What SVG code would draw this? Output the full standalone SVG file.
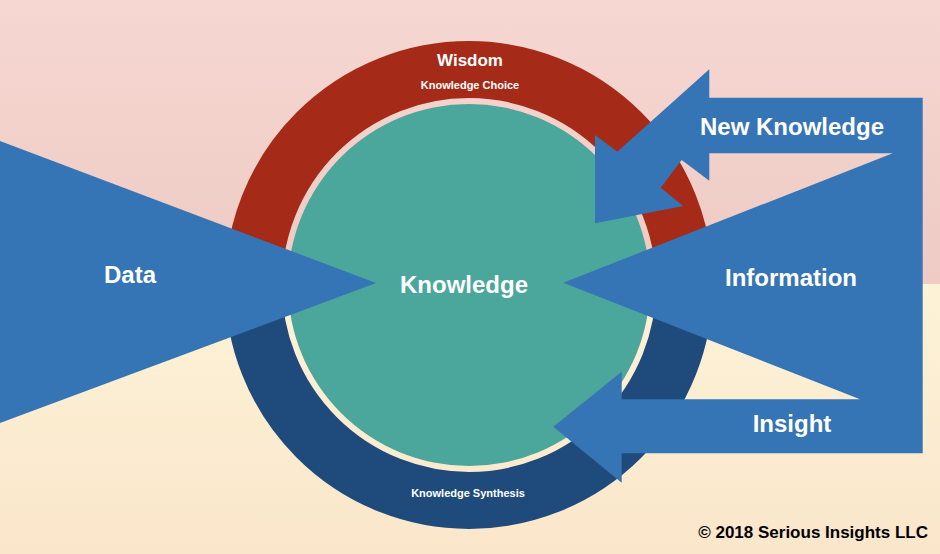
<svg xmlns="http://www.w3.org/2000/svg" width="940" height="554" viewBox="0 0 940 554">
<defs>
<linearGradient id="gTop" x1="0" y1="0" x2="0" y2="1"><stop offset="0" stop-color="#f6d7d1"/><stop offset="1" stop-color="#eecbc4"/></linearGradient>
<linearGradient id="gBot" x1="0" y1="0" x2="0" y2="1"><stop offset="0" stop-color="#fdf3d6"/><stop offset="1" stop-color="#fae6cb"/></linearGradient>
<style>
.t{font-family:"Liberation Sans",Arial,sans-serif;font-weight:bold;fill:#fff;text-anchor:middle}
.big{font-size:24px}
.sm{font-size:11px}
.arr{fill:#3574b5}
</style>
</defs>
<rect x="0" y="0" width="940" height="284" fill="url(#gTop)"/>
<rect x="0" y="284" width="940" height="270" fill="url(#gBot)"/>
<g id="wisdom">
<path d="M253.5 285 A215.5 215.5 0 0 1 684.5 285" fill="none" stroke="#a52a17" stroke-width="57"/>
<text class="t" x="470" y="66" font-size="17">Wisdom</text>
<text class="t sm" x="470" y="89">Knowledge Choice</text>
</g>
<g id="synthesis">
<path d="M253.5 285 A215.5 215.5 0 0 0 684.5 285" fill="none" stroke="#1f4b7c" stroke-width="57"/>
<text class="t sm" x="468" y="497">Knowledge Synthesis</text>
</g>
<g id="knowledge">
<circle cx="469" cy="285" r="181" fill="#4ba69c"/>
<text class="t big" x="464" y="293">Knowledge</text>
</g>
<g id="connectors">
<polygon id="data" class="arr" points="0,141 376,283 0,423"/>
<polygon id="right-arrows" class="arr" points="922.7,97.7 709.3,97.7 709.3,69.3 617.3,151.7 595,135 595,223.3 683.3,206 660.7,187.7 681.7,160 709.3,180.7 709.3,153.3 892.7,153.3 563.3,282.7 860,399.3 621.7,399.3 621.7,371.7 553.3,426.7 621.7,482.7 621.7,453.3 922.7,453.3"/>
</g>
<g id="labels">
<text class="t big" x="130" y="283">Data</text>
<text class="t big" x="792" y="135">New Knowledge</text>
<text class="t big" x="791" y="286">Information</text>
<text class="t big" x="792" y="432">Insight</text>
</g>
<text x="928" y="538" font-family="Liberation Sans,Arial,sans-serif" font-weight="bold" font-size="17" text-anchor="end" fill="#000">© 2018 Serious Insights LLC</text>
</svg>
